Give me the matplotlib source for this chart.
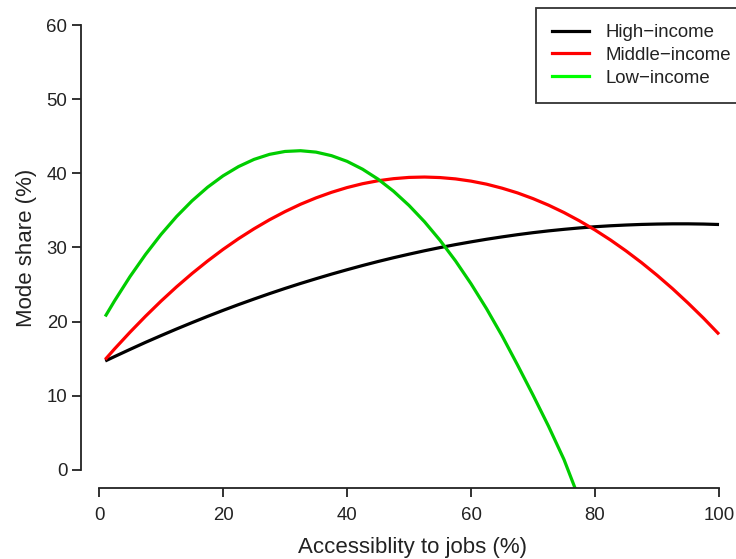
import numpy as np
import matplotlib.pyplot as plt

plt.rcParams['font.family'] = ['Liberation Sans', 'DejaVu Sans']

# accessibility to jobs (%)
access = [1, 2.5, 5, 7.5, 10, 12.5, 15, 17.5, 20, 22.5, 25, 27.5, 30, 32.5,
          35, 37.5, 40, 42.5, 45, 47.5, 50, 52.5, 55, 57.5, 60, 62.5, 65,
          67.5, 70, 72.5, 75, 77.5, 80, 82.5, 85, 87.5, 90, 92.5, 95, 97.5, 100]

# mode share (%)
high_income = [14.70, 15.29, 16.26, 17.21, 18.12, 19.01, 19.87, 20.71, 21.52,
               22.30, 23.05, 23.78, 24.48, 25.15, 25.79, 26.41, 27.00, 27.57,
               28.11, 28.62, 29.10, 29.56, 29.99, 30.39, 30.76, 31.11, 31.43,
               31.73, 32.00, 32.24, 32.45, 32.64, 32.80, 32.93, 33.03, 33.11,
               33.16, 33.19, 33.19, 33.16, 33.10]
middle_income = [14.90, 16.32, 18.58, 20.73, 22.77, 24.69, 26.49, 28.17, 29.74,
                 31.19, 32.52, 33.74, 34.84, 35.83, 36.69, 37.44, 38.08, 38.60,
                 39.00, 39.28, 39.45, 39.50, 39.43, 39.25, 38.95, 38.54, 38.00,
                 37.36, 36.59, 35.71, 34.71, 33.59, 32.36, 31.01, 29.54, 27.96,
                 26.26, 24.45, 22.51, 20.47, 18.30]
low_income = [20.70, 22.80, 26.08, 29.06, 31.76, 34.17, 36.29, 38.12, 39.66,
              40.91, 41.88, 42.56, 42.95, 43.05, 42.86, 42.38, 41.62, 40.56,
              39.22, 37.59, 35.67, 33.47, 30.97, 28.19, 25.11, 21.75, 18.10,
              14.16, 10.10, 5.90, 1.40, -4.00, -9.50, np.nan, np.nan, np.nan,
              np.nan, np.nan, np.nan, np.nan, np.nan]

labels = ['High\u2212income', 'Middle\u2212income', 'Low\u2212income']

fig = plt.figure(figsize=(7.36, 5.59), dpi=100)
ax = fig.add_axes([0.1096, 0.1274, 0.9007, 0.8597])

ax.plot(access, high_income, color='black', lw=2.3, solid_capstyle='butt')
ax.plot(access, middle_income, color='#FF0000', lw=2.3, solid_capstyle='butt')
ax.plot(access, low_income, color='#00CD00', lw=2.3, solid_capstyle='butt')

ax.set_xlim(-2.96, 103.96)
ax.set_ylim(-2.4, 62.4)

for s in ['top', 'right']:
    ax.spines[s].set_visible(False)
ax.spines['left'].set_bounds(0, 60)
ax.spines['bottom'].set_bounds(0, 100)
for s in ['left', 'bottom']:
    ax.spines[s].set_linewidth(1.3)
    ax.spines[s].set_color('#222222')

ax.set_xticks(np.arange(0, 101, 20))
ax.set_yticks(np.arange(0, 61, 10))
ax.tick_params(axis='both', length=6.5, width=1.3, color='#222222',
               labelsize=13.4, labelcolor='#222222')
ax.tick_params(axis='x', pad=7)
ax.tick_params(axis='y', pad=3)

ax.set_xlabel('Accessiblity to jobs (%)', fontsize=16, color='#222222', labelpad=10)
ax.set_ylabel('Mode share (%)', fontsize=16, color='#222222', labelpad=7)

handles = [plt.Line2D([], [], color=c, lw=2.3) for c in ['black', '#FF0000', '#00FF00']]
leg = ax.legend(handles, labels, loc='upper left',
                bbox_to_anchor=(536 / 736, 1 - 8.3 / 559),
                bbox_transform=fig.transFigure, borderaxespad=0,
                fontsize=13.4, frameon=True, fancybox=False,
                handlelength=2.0, handletextpad=0.9, borderpad=0.85,
                labelspacing=0.31)
leg.get_frame().set_edgecolor('black')
leg.get_frame().set_linewidth(1.3)
for t in leg.get_texts():
    t.set_color('#222222')

fig.savefig('out.png', dpi=100)
